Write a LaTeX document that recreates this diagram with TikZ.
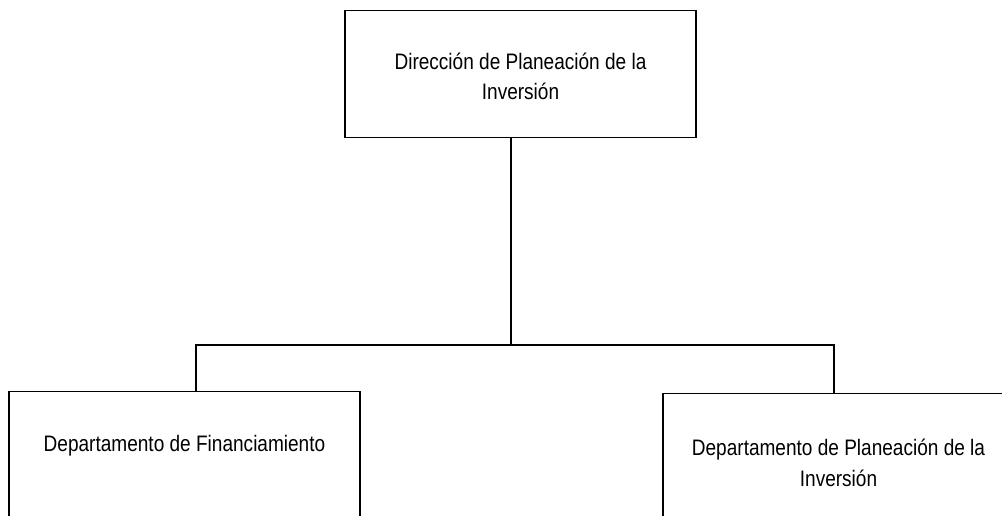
\documentclass[tikz,border=0pt]{standalone}
\usepackage{fontspec}
\setmainfont{Liberation Sans}[FakeStretch=0.85]
\usepackage{tikz}
\usetikzlibrary{calc, positioning}

\begin{document}
\begin{tikzpicture}[x=1pt, y=-1pt, line width=1.2pt,
        unitbox/.style={draw=black, rectangle, minimum width=351pt, align=center,
            font=\fontsize{22.4pt}{30.5pt}\selectfont, inner sep=0pt, anchor=north},
        deptbox/.style={unitbox, text depth=200pt}]
            \useasboundingbox (0,0) rectangle (1002,516);
            \clip (0,0) rectangle (1002,516);

            % === Top box ===
            \node[unitbox, text height=89pt, text depth=38pt] (direccion) at (520.5, 10)
                {Dirección de Planeación de la\\Inversión};

            % === Department boxes (cut at the bottom of the page) ===
            \node[deptbox, text height=60pt] (financiamiento) at (184.5, 391)
                {Departamento de Financiamiento};
            \node[deptbox, text height=92.5pt] (planeacion) at (838.5, 393)
                {Departamento de Planeación de la\\Inversión};

            % === Connectors ===
            \coordinate (junction) at (511, 345);
            \coordinate (leftend) at (196, 345);
            \coordinate (rightend) at (834, 345);

            \draw (direccion.south -| junction) -- (junction);
            \draw (leftend |- financiamiento.north) -- (leftend) -- (rightend)
                -- (rightend |- planeacion.north);
        \end{tikzpicture}
\end{document}
